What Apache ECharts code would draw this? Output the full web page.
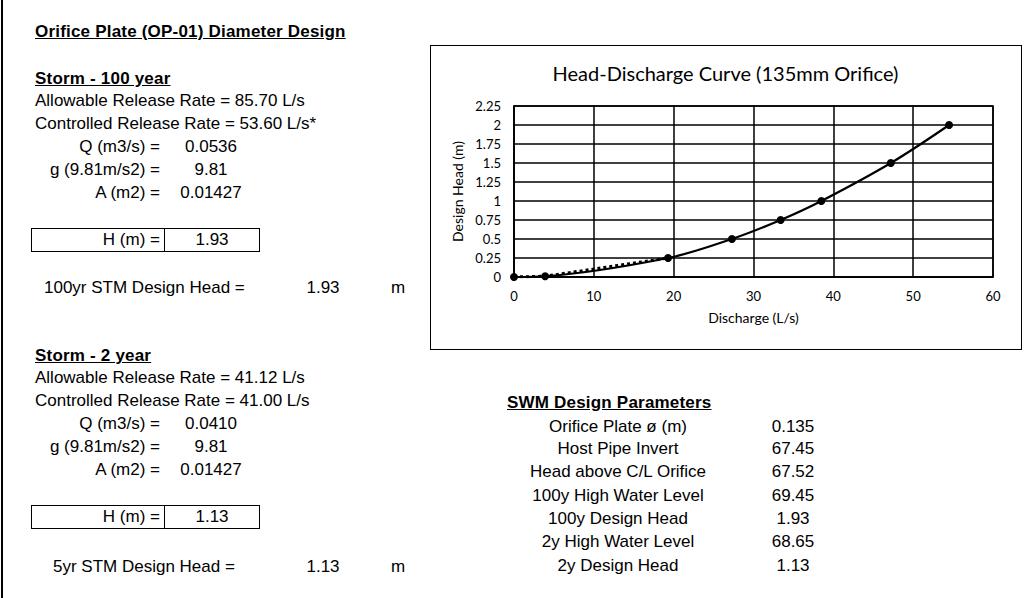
<!DOCTYPE html>
<html>
<head>
<meta charset="utf-8">
<script src="https://cdn.jsdelivr.net/npm/echarts@6/dist/echarts.min.js"></script>
<style>
  html, body { margin: 0; padding: 0; background: #fff; }
  #page { position: relative; width: 1032px; height: 598px; overflow: hidden; background: #fff;
          font-family: "Liberation Sans", Arial, sans-serif; font-size: 17px; color: #000; }
  .t { position: absolute; height: 20px; line-height: 20px; white-space: nowrap; }
  .b { font-weight: bold; text-decoration: underline; letter-spacing: 0.2px; }
  .r { text-align: right; }
  .c { text-align: center; }
  .box { position: absolute; border: 1px solid #000; box-sizing: border-box; }
  #leftline { position: absolute; left: 1px; top: 0; width: 2px; height: 598px; background: #000; }
  #chartbox { position: absolute; left: 430px; top: 45px; width: 592px; height: 305px;
              border: 1.5px solid #000; box-sizing: border-box; }
  #chart { position: absolute; left: 0; top: 0; width: 589px; height: 302px; }
</style>
</head>
<body>
<div id="page">
  <div id="leftline"></div>
  <div id="texts"></div>
  <div id="chartbox"><div id="chart"></div></div>
</div>
<script>
// ---- Chart data ----
const dischargeLs = [0, 3.9, 19.3, 27.3, 33.4, 38.5, 47.2, 54.5];
const designHead  = [0, 0.01, 0.25, 0.5, 0.75, 1.0, 1.5, 2.0];
const chartTitle = 'Head-Discharge Curve (135mm Orifice)';
const xName = 'Discharge (L/s)';
const yName = 'Design Head (m)';

// ---- Sheet text data ----
const sheetTitle = 'Orifice Plate (OP-01) Diameter Design';
const storm100 = {
  head: 'Storm - 100 year',
  allow: 'Allowable Release Rate = 85.70 L/s',
  ctrl: 'Controlled Release Rate = 53.60 L/s*',
  q: '0.0536', g: '9.81', a: '0.01427', h: '1.93',
  sumLabel: '100yr STM Design Head =', sumVal: '1.93'
};
const storm2 = {
  head: 'Storm - 2 year',
  allow: 'Allowable Release Rate = 41.12 L/s',
  ctrl: 'Controlled Release Rate = 41.00 L/s',
  q: '0.0410', g: '9.81', a: '0.01427', h: '1.13',
  sumLabel: '5yr STM Design Head =', sumVal: '1.13'
};
const paramTitle = 'SWM Design Parameters';
const paramLabels = ['Orifice Plate \u00f8 (m)', 'Host Pipe Invert', 'Head above C/L Orifice',
  '100y High Water Level', '100y Design Head', '2y High Water Level', '2y Design Head'];
const paramValues = ['0.135', '67.45', '67.52', '69.45', '1.93', '68.65', '1.13'];

// ---- Build sheet text ----
const T = document.getElementById('texts');
function txt(s, x, cy, cls, w) {
  const d = document.createElement('div');
  d.className = 't ' + (cls || '');
  d.textContent = s;
  d.style.top = (cy - 10) + 'px';
  if (cls && cls.indexOf('r') >= 0) { d.style.left = (x - w) + 'px'; d.style.width = w + 'px'; }
  else if (cls && cls.indexOf('c') >= 0) { d.style.left = (x - w / 2) + 'px'; d.style.width = w + 'px'; }
  else d.style.left = x + 'px';
  T.appendChild(d);
}
function box(x, y, w, h) {
  const d = document.createElement('div');
  d.className = 'box';
  d.style.left = x + 'px'; d.style.top = y + 'px'; d.style.width = w + 'px'; d.style.height = h + 'px';
  T.appendChild(d);
}
function block(s, y0) {
  txt(s.head, 35, y0, 'b');
  txt(s.allow, 35, y0 + 22);
  txt(s.ctrl, 35, y0 + 45);
  txt('Q (m3/s) =', 160, y0 + 68, 'r', 140);
  txt(s.q, 211, y0 + 68, 'c', 80);
  txt('g (9.81m/s2) =', 160, y0 + 91, 'r', 140);
  txt(s.g, 211, y0 + 91, 'c', 80);
  txt('A (m2) =', 160, y0 + 114, 'r', 140);
  txt(s.a, 211, y0 + 114, 'c', 80);
  box(31, y0 + 149, 134, 24);
  box(164, y0 + 149, 96, 24);
  txt('H (m) =', 160, y0 + 161, 'r', 120);
  txt(s.h, 212, y0 + 161, 'c', 80);
}
txt(sheetTitle, 35, 32, 'b');
block(storm100, 79);
txt(storm100.sumLabel, 44, 288);
txt(storm100.sumVal, 323, 288, 'c', 60);
txt('m', 398, 288, 'c', 30);
block(storm2, 356);
txt(storm2.sumLabel, 53, 567);
txt(storm2.sumVal, 323, 567, 'c', 60);
txt('m', 398, 567, 'c', 30);

txt(paramTitle, 507, 403, 'b');
paramLabels.forEach((l, i) => {
  const cy = [427, 449, 472, 496, 519, 542, 566][i];
  txt(l, 618, cy, 'c', 240);
  txt(paramValues[i], 793, cy, 'c', 80);
});

// ---- Chart ----
const pts = dischargeLs.map((x, i) => [x, designHead[i]]);
const chart = echarts.init(document.getElementById('chart'), null, { renderer: 'svg' });
const font = 'Lato, "Open Sans", sans-serif';
const axisFont = { fontFamily: font, color: '#000', fontSize: 13 };
chart.setOption({
  animation: false,
  title: {
    text: chartTitle, left: 'center', top: 12,
    textStyle: { fontFamily: font, fontWeight: 'normal', fontSize: 20, color: '#000' }
  },
  grid: { left: 83, top: 60, right: 27, bottom: 71, show: true, borderColor: '#000', borderWidth: 1.5 },
  xAxis: {
    type: 'value', min: 0, max: 60, interval: 10,
    name: xName, nameLocation: 'middle', nameGap: 33,
    nameTextStyle: Object.assign({}, axisFont, { fontSize: 14 }),
    axisLine: { show: true, lineStyle: { color: '#000', width: 1.5 } },
    axisTick: { show: false },
    axisLabel: Object.assign({ margin: 12 }, axisFont),
    splitLine: { show: true, lineStyle: { color: '#000', width: 1.5 } }
  },
  yAxis: {
    type: 'value', min: 0, max: 2.25, interval: 0.25,
    name: yName, nameLocation: 'middle', nameGap: 43,
    nameTextStyle: Object.assign({}, axisFont, { fontSize: 14 }),
    axisLine: { show: true, lineStyle: { color: '#000', width: 1.5 } },
    axisTick: { show: false },
    axisLabel: Object.assign({ margin: 13 }, axisFont),
    splitLine: { show: true, lineStyle: { color: '#000', width: 1.5 } }
  },
  series: [
    {
      type: 'line', data: pts.slice(0, 3), smooth: false, symbol: 'none', z: 1,
      lineStyle: { color: '#000', width: 3, type: 'dotted' }
    },
    {
      type: 'line', data: pts, smooth: 0.35, symbol: 'circle', symbolSize: 8, z: 2,
      itemStyle: { color: '#000' },
      lineStyle: { color: '#000', width: 2.2 }
    }
  ]
});
</script>
</body>
</html>
